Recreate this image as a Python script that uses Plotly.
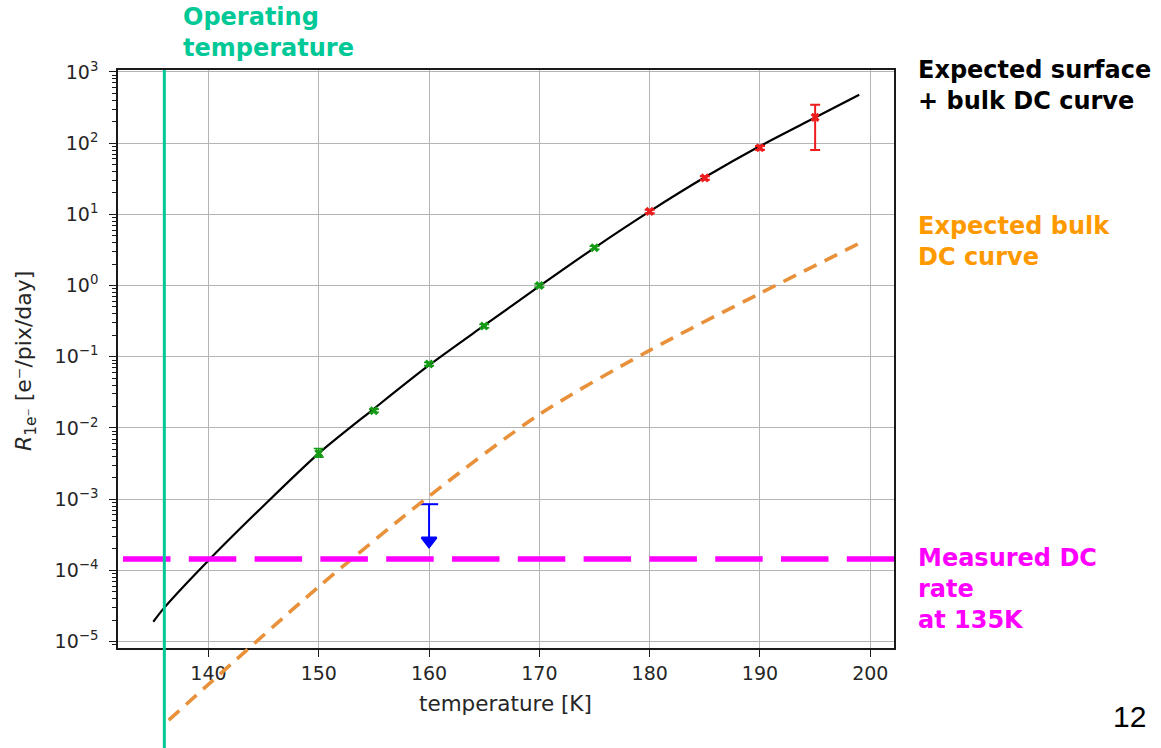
import plotly.graph_objects as go

# ---------------------------------------------------------------------------
# Data
# ---------------------------------------------------------------------------
# expected surface + bulk dark-current curve  [K], [e-/pix/day]
temp_model = [135, 136, 140, 145, 150, 155, 160, 165, 170, 175, 180, 185, 190, 195, 199]
rate_model = [1.9e-5, 3.0e-5, 1.38e-4, 8.1e-4, 4.4e-3, 1.86e-2, 7.6e-2, 0.275,
              0.98, 3.39, 11.0, 33.1, 91.0, 229, 479]

# expected bulk-only dark-current curve
temp_bulk = [136.4, 140, 150, 160, 170, 180, 190, 199.1]
rate_bulk = [7.9e-7, 2.5e-6, 5.9e-5, 1.1e-3, 1.55e-2, 0.123, 0.776, 3.98]

# measurements, low-temperature set (green)
temp_low = [150, 155, 160, 165, 170, 175]
rate_low = [4.4e-3, 1.75e-2, 7.9e-2, 0.27, 1.0, 3.4]
err_low_up = [0.75e-3, 0.9e-3, 4e-3, 0.014, 0.05, 0.17]
err_low_dn = [0.5e-3, 0.9e-3, 4e-3, 0.014, 0.05, 0.17]

# measurements, high-temperature set (red)
temp_high = [180, 185, 190, 195]
rate_high = [11.0, 32.5, 86.0, 230.0]
err_high_up = [0.6, 1.8, 5.0, 115.0]
err_high_dn = [0.6, 1.8, 5.0, 150.0]

# upper limit at 160 K (blue)
limit_temp = [160, 160]
limit_rate = [8.5e-4, 2.6e-4]

# measured DC rate at 135 K and operating temperature
measured_rate = 1.44e-4
operating_temp = 136.0

x_ticks = [140, 150, 160, 170, 180, 190, 200]
y_exponents = [-5, -4, -3, -2, -1, 0, 1, 2, 3]

# ---------------------------------------------------------------------------
# Layout geometry (pixels)
# ---------------------------------------------------------------------------
W, H = 1161, 748
p_left, p_right, p_top, p_bottom = 118, 894, 70, 648
x_range = [131.8, 202.15]
y_range = [-5.09, 3.027]

def fx(px):
    return px / W

def fy(py):
    return 1 - py / H

# a taller twin subplot for the bulk curve so it can run past the frame
dec_per_px = (y_range[1] - y_range[0]) / (p_bottom - p_top)
y2_range = [y_range[1] - (H - p_top) * dec_per_px, y_range[1]]

y_major = [10.0 ** e for e in y_exponents]
y_minor = [d * 10.0 ** e for e in [-6] + y_exponents for d in range(2, 10)]

GREEN = "#159a15"
RED = "#ee1c1c"
BLUE = "#0000ff"
ORANGE_LINE = "#e8913a"
TEAL = "#00c896"
MAGENTA = "#ff00ff"
ORANGE_TEXT = "#ff9900"
AX_TEXT = "#262626"

fig = go.Figure()

fig.add_trace(go.Scatter(
    x=temp_model, y=rate_model, mode="lines",
    line=dict(color="black", width=2.2, shape="spline", smoothing=0.8),
    xaxis="x", yaxis="y", showlegend=False, hoverinfo="skip"))

fig.add_trace(go.Scatter(
    x=temp_low, y=rate_low, mode="markers",
    marker=dict(symbol="x", size=8, color=GREEN, line=dict(width=0)),
    error_y=dict(type="data", array=err_low_up, arrayminus=err_low_dn,
                 color=GREEN, thickness=1.6, width=5),
    xaxis="x", yaxis="y", showlegend=False))

fig.add_trace(go.Scatter(
    x=temp_high, y=rate_high, mode="markers",
    marker=dict(symbol="x", size=8, color=RED, line=dict(width=0)),
    error_y=dict(type="data", array=err_high_up, arrayminus=err_high_dn,
                 color=RED, thickness=2, width=5),
    xaxis="x", yaxis="y", showlegend=False))

fig.add_trace(go.Scatter(
    x=limit_temp, y=limit_rate, mode="lines+markers",
    line=dict(color=BLUE, width=2),
    marker=dict(symbol=["line-ew", "triangle-down"], size=[13, 13],
                color=BLUE, opacity=1, line=dict(color=BLUE, width=2)),
    xaxis="x", yaxis="y", showlegend=False))

fig.add_trace(go.Scatter(
    x=temp_bulk, y=rate_bulk, mode="lines",
    line=dict(color=ORANGE_LINE, width=3.6, dash="14px,9px", shape="spline", smoothing=0.8),
    xaxis="x2", yaxis="y2", showlegend=False, hoverinfo="skip"))

axis_common = dict(
    showline=True, linecolor="#1a1a1a", linewidth=1.6, mirror=True,
    showgrid=True, gridcolor="#b4b4b4", gridwidth=1.4,
    ticks="outside", ticklen=7, tickwidth=1.3, tickcolor="#1a1a1a",
    tickfont=dict(family="DejaVu Sans", size=19, color=AX_TEXT),
    zeroline=False, automargin=False,
)

fig.update_layout(
    width=W, height=H, template="none",
    margin=dict(l=0, r=0, t=0, b=0, pad=0),
    paper_bgcolor="white", plot_bgcolor="rgba(0,0,0,0)",
    xaxis=dict(axis_common, domain=[fx(p_left), fx(p_right)], range=x_range,
               tickmode="array", tickvals=x_ticks, anchor="y"),
    yaxis=dict(axis_common, type="log", domain=[fy(p_bottom), fy(p_top)], range=y_range,
               tickmode="array", tickvals=y_major,
               ticktext=["10<sup>%s</sup>" % str(e).replace("-", "\u2212") for e in y_exponents],
               anchor="x", ticklabelstandoff=7,
               minor=dict(tickmode="array", tickvals=y_minor, ticks="outside", ticklen=4,
                          tickwidth=1, tickcolor="#1a1a1a", showgrid=False)),
    xaxis2=dict(domain=[fx(p_left), fx(p_right)], range=x_range, visible=False,
                anchor="y2", showgrid=False, zeroline=False),
    yaxis2=dict(type="log", domain=[0, fy(p_top)], range=y2_range, visible=False,
                anchor="x2", showgrid=False, zeroline=False),
    showlegend=False,
)

# measured DC rate and operating temperature markers
fig.add_shape(type="line", xref="x domain", yref="y",
              x0=(123 - p_left) / (p_right - p_left), x1=1,
              y0=measured_rate, y1=measured_rate,
              line=dict(color=MAGENTA, width=5.5, dash="47.5px,18.3px"), layer="above")
fig.add_shape(type="line", xref="x", yref="paper",
              x0=operating_temp, x1=operating_temp, y0=0, y1=fy(p_top),
              line=dict(color=TEAL, width=3), layer="above")

def label(text, x, y, color, size=24, xanchor="left", family="DejaVu Sans", bold=True, angle=0):
    fig.add_annotation(
        text="<b>%s</b>" % text if bold else text,
        xref="paper", yref="paper", x=fx(x), y=fy(y),
        xanchor=xanchor, yanchor="middle", align="left", showarrow=False,
        textangle=angle, font=dict(family=family, size=size, color=color))

label("Operating<br>temperature", 181, 33, TEAL)
label("Expected surface<br>+ bulk DC curve", 916, 85, "black")
label("Expected bulk<br>DC curve", 916, 241, ORANGE_TEXT)
label("Measured DC<br>rate<br>at 135K", 916, 589, MAGENTA)
label("12", 1129, 716, "black", size=30, xanchor="center", family="Liberation Sans", bold=False)

# axis titles
label("temperature [K]", 505, 703, AX_TEXT, size=21.5, xanchor="center", bold=False)
label("<i>R</i><sub>1e\u207b</sub> [e\u207b/pix/day]", 25, 361, AX_TEXT, size=22,
      xanchor="center", bold=False, angle=-90)

fig.write_html("out.html")
